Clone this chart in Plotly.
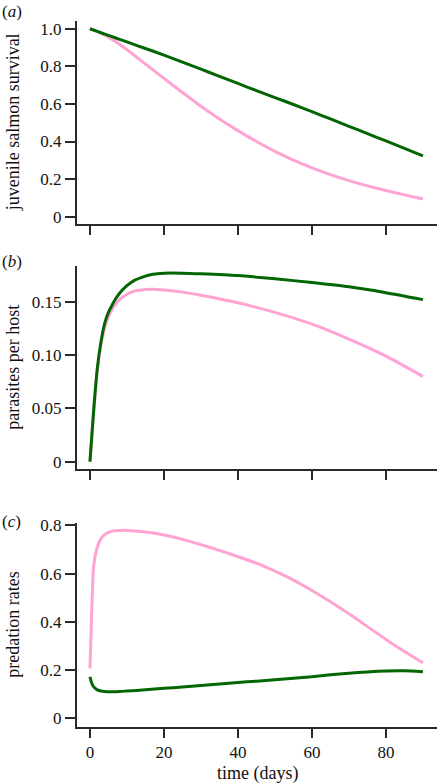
"""
Juvenile salmon survival, parasites per host and predation rates over time.
Three stacked panels (a), (b), (c) — pink and green scenarios.
"""

import plotly.graph_objects as go

# ── Data ─────────────────────────────────────────────────────────────────────
t_surv = [0, 2, 4, 6, 8, 10, 15, 20, 25, 30, 35, 40, 45, 50, 55, 60, 65, 70, 75, 80, 85, 90]
surv_green = [1.0, 0.986, 0.972, 0.958, 0.944, 0.930, 0.895, 0.860, 0.822, 0.785, 0.747,
              0.709, 0.671, 0.634, 0.597, 0.559, 0.520, 0.481, 0.442, 0.403, 0.363, 0.323]
surv_pink = [1.0, 0.985, 0.966, 0.943, 0.918, 0.889, 0.812, 0.736, 0.661, 0.588, 0.520,
             0.458, 0.400, 0.348, 0.301, 0.260, 0.224, 0.192, 0.164, 0.139, 0.116, 0.094]

t_par = [0, 1, 2, 3, 4, 5, 6, 7, 8, 10, 12, 15, 17, 20, 25, 30, 40, 50, 60, 70, 80, 90]
par_green = [0.0, 0.048, 0.088, 0.113, 0.130, 0.140, 0.147, 0.153, 0.158, 0.165, 0.170,
             0.174, 0.1758, 0.1768, 0.1768, 0.1762, 0.1745, 0.1715, 0.168, 0.164, 0.1585, 0.152]
par_pink = [0.0, 0.047, 0.086, 0.110, 0.126, 0.136, 0.143, 0.148, 0.152, 0.157, 0.160,
            0.1615, 0.1618, 0.161, 0.159, 0.156, 0.149, 0.140, 0.129, 0.115, 0.099, 0.080]

t_pred = [0, 0.5, 1, 2, 3, 4, 5, 6, 8, 10, 15, 20, 25, 30, 35, 40, 45, 50, 55, 60, 65, 70,
          75, 80, 85, 90]
pred_pink = [0.207, 0.45, 0.63, 0.71, 0.745, 0.762, 0.771, 0.776, 0.779, 0.779, 0.772,
             0.760, 0.742, 0.720, 0.696, 0.670, 0.643, 0.610, 0.573, 0.530, 0.483, 0.433,
             0.380, 0.327, 0.277, 0.230]
pred_green = [0.172, 0.145, 0.130, 0.118, 0.113, 0.111, 0.110, 0.110, 0.111, 0.113, 0.118,
              0.124, 0.130, 0.136, 0.142, 0.148, 0.154, 0.160, 0.166, 0.172, 0.180, 0.187,
              0.192, 0.196, 0.197, 0.193]

x_ticks = [0, 20, 40, 60, 80]
panels = [
    dict(label="(<i>a</i>)", title="juvenile salmon survival",
         ticks=[0, 0.2, 0.4, 0.6, 0.8, 1.0], ticktext=["0", "0.2", "0.4", "0.6", "0.8", "1.0"],
         yrange=[-0.039, 1.043]),
    dict(label="(<i>b</i>)", title="parasites per host",
         ticks=[0, 0.05, 0.10, 0.15], ticktext=["0", "0.05", "0.10", "0.15"],
         yrange=[-0.0071, 0.1835]),
    dict(label="(<i>c</i>)", title="predation rates",
         ticks=[0, 0.2, 0.4, 0.6, 0.8], ticktext=["0", "0.2", "0.4", "0.6", "0.8"],
         yrange=[-0.035, 0.811]),
]

PINK = "#ffa3d3"
GREEN = "#036603"
AXIS = "#2a2a2a"
FONT = "Liberation Serif, Times New Roman, DejaVu Serif, serif"

W, H = 439, 784
# pixel bounds of each plot area (top, bottom)
px_bounds = [(20.7, 224.0), (266.0, 469.3), (522.7, 726.7)]
label_y = [11, 261, 521]
x_dom = [77 / W, 437 / W]

fig = go.Figure()

series = [
    (t_surv, surv_pink, surv_green),
    (t_par, par_pink, par_green),
    (t_pred, pred_pink, pred_green),
]

for i, (tt, pink, green) in enumerate(series, start=1):
    sfx = "" if i == 1 else str(i)
    for vals, col in ((pink, PINK), (green, GREEN)):
        fig.add_trace(go.Scatter(
            x=tt, y=vals, mode="lines",
            line=dict(color=col, width=3, shape="spline", smoothing=0.6),
            xaxis="x" + sfx, yaxis="y" + sfx,
            showlegend=False, hoverinfo="skip",
        ))

layout = dict(
    template="none",
    width=W, height=H, autosize=False,
    margin=dict(l=0, r=0, t=0, b=0, pad=0),
    paper_bgcolor="white", plot_bgcolor="white",
    font=dict(family=FONT, size=17, color="#111"),
    showlegend=False,
)
annotations = []

for i, (p, (top, bot)) in enumerate(zip(panels, px_bounds), start=1):
    sfx = "" if i == 1 else str(i)
    y_dom = [1 - bot / H, 1 - top / H]
    layout["xaxis" + sfx] = dict(
        domain=x_dom, range=[-3.5, 93.8], anchor="y" + sfx, automargin=False,
        showline=True, linecolor=AXIS, linewidth=2,
        ticks="outside", ticklen=9, tickwidth=2, tickcolor=AXIS,
        tickvals=x_ticks, showticklabels=(i == 3),
        showgrid=False, zeroline=False,
        tickfont=dict(family=FONT, size=17),
    )
    layout["yaxis" + sfx] = dict(
        domain=y_dom, range=p["yrange"], anchor="x" + sfx, automargin=False,
        showline=True, linecolor=AXIS, linewidth=2,
        ticks="outside", ticklen=10, tickwidth=2, tickcolor=AXIS,
        tickvals=p["ticks"], ticktext=p["ticktext"],
        showgrid=False, zeroline=False,
        tickfont=dict(family=FONT, size=17),
    )
    annotations.append(dict(
        text=p["title"], textangle=-90, xref="paper", yref="paper",
        x=13 / W, y=sum(y_dom) / 2, xanchor="center", yanchor="middle",
        showarrow=False, font=dict(family=FONT, size=18),
    ))
    annotations.append(dict(
        text=p["label"], xref="paper", yref="paper",
        x=0, y=1 - label_y[i - 1] / H, xanchor="left", yanchor="middle",
        showarrow=False, font=dict(family=FONT, size=17),
    ))

annotations.append(dict(
    text="time (days)", xref="paper", yref="paper",
    x=sum(x_dom) / 2, y=1 - 773 / H, xanchor="center", yanchor="middle",
    showarrow=False, font=dict(family=FONT, size=18),
))
layout["annotations"] = annotations

fig.update_layout(**layout)
# page body has a default 8px margin; drop it so the figure sits at (0, 0)
fig.write_html(
    "out.html",
    config={"displayModeBar": False},
    post_script="document.body.style.margin = '0';",
)
